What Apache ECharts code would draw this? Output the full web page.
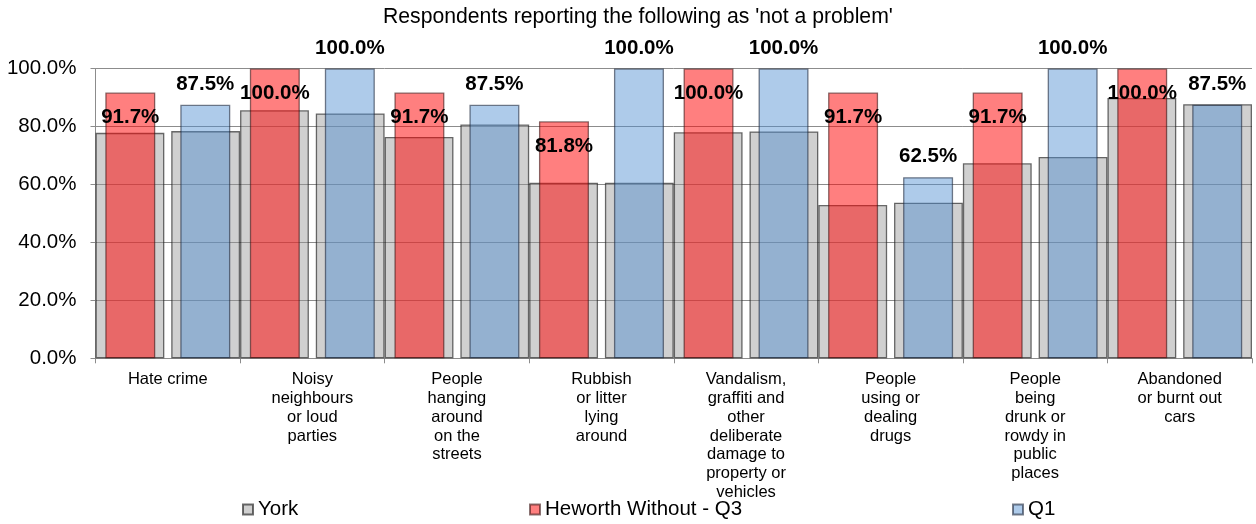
<!DOCTYPE html>
<html>
<head>
<meta charset="utf-8">
<script src="https://cdn.jsdelivr.net/npm/echarts@6/dist/echarts.min.js"></script>
<style>html,body{margin:0;padding:0;background:#fff}#c{width:1256px;height:524px}</style>
</head>
<body>
<div id="c"></div>
<script>
const titleText = "Respondents reporting the following as 'not a problem'";
const categories = [
  "Hate crime",
  "Noisy\nneighbours\nor loud\nparties",
  "People\nhanging\naround\non the\nstreets",
  "Rubbish\nor litter\nlying\naround",
  "Vandalism,\ngraffiti and\nother\ndeliberate\ndamage to\nproperty or\nvehicles",
  "People\nusing or\ndealing\ndrugs",
  "People\nbeing\ndrunk or\nrowdy in\npublic\nplaces",
  "Abandoned\nor burnt out\ncars"
];
const yorkWithQ3 = [77.8, 85.6, 76.4, 60.6, 78.0, 52.9, 67.3, 89.8];
const yorkWithQ1 = [78.4, 84.5, 80.7, 60.6, 78.3, 53.7, 69.5, 87.7];
const heworthQ3 = [91.7, 100, 91.7, 81.8, 100, 91.7, 91.7, 100];
const q1 = [87.5, 100, 87.5, 100, 100, 62.5, 100, 87.5];
const yTicks = [0, 20, 40, 60, 80, 100];

const FONT = "'Liberation Sans', Arial, sans-serif";
const greyStyle = {color: 'rgba(150,150,150,0.45)', borderColor: 'rgba(30,30,30,0.65)', borderWidth: 1.3};
const redStyle = {color: 'rgba(255,0,0,0.5)', borderColor: 'rgba(60,20,20,0.6)', borderWidth: 1.3};
const blueStyle = {color: 'rgba(75,140,209,0.45)', borderColor: 'rgba(30,40,60,0.6)', borderWidth: 1.3};
const lblStyle = {fontFamily: FONT, fontSize: 20.5, fontWeight: 'bold', color: '#000', formatter: p => p.value.toFixed(1) + '%'};

function legendAt(name, left) {
  return {data: [name], left: left, top: 499, padding: 0, itemWidth: 10, itemHeight: 10, icon: 'rect',
    textStyle: {fontFamily: FONT, fontSize: 20.5, color: '#000'}};
}

const chart = echarts.init(document.getElementById('c'), null, {renderer: 'canvas'});
chart.setOption({
  animation: false,
  backgroundColor: '#fff',
  title: {text: titleText, left: 383, top: 7, padding: 0,
    textStyle: {fontFamily: FONT, fontSize: 21.2, fontWeight: 'normal', color: '#000'}},
  legend: [legendAt('York', 242), legendAt('Heworth Without - Q3', 529), legendAt('Q1', 1012)],
  grid: {left: 95.5, right: 4, top: 68.5, bottom: 165.7, containLabel: false},
  xAxis: [
    {type: 'category', data: categories,
     axisLine: {show: true, lineStyle: {color: '#8c8c8c', width: 1}},
     axisTick: {show: true, alignWithLabel: false, length: 5, lineStyle: {color: '#8c8c8c'}},
     axisLabel: {interval: 0, margin: 12, fontFamily: FONT, fontSize: 16.5, lineHeight: 18.8, color: '#000', align: 'center'}},
    {type: 'category', data: categories, show: false}
  ],
  yAxis: {type: 'value', min: yTicks[0], max: yTicks[yTicks.length - 1], interval: 20,
    axisLine: {show: true, lineStyle: {color: '#8c8c8c', width: 1}},
    axisTick: {show: true, length: 5, lineStyle: {color: '#8c8c8c'}},
    splitLine: {show: true, lineStyle: {color: '#8c8c8c', width: 1}},
    axisLabel: {margin: 19, fontFamily: FONT, fontSize: 20.5, color: '#000', formatter: v => v.toFixed(1) + '%'}},
  series: [
    {name: 'York', type: 'bar', xAxisIndex: 0, data: yorkWithQ3, barCategoryGap: '0%', barGap: '10%', itemStyle: greyStyle},
    {name: 'York', type: 'bar', xAxisIndex: 0, data: yorkWithQ1, barCategoryGap: '0%', barGap: '10%', itemStyle: greyStyle},
    {name: 'Heworth Without - Q3', type: 'bar', xAxisIndex: 1, data: heworthQ3, barWidth: 50, barGap: '50%', itemStyle: redStyle,
     label: Object.assign({show: true, position: 'insideTop', distance: 14.5}, lblStyle)},
    {name: 'Q1', type: 'bar', xAxisIndex: 1, data: q1, barWidth: 50, barGap: '50%', itemStyle: blueStyle,
     label: Object.assign({show: true, position: 'top', distance: 10}, lblStyle)}
  ]
});
</script>
</body>
</html>
